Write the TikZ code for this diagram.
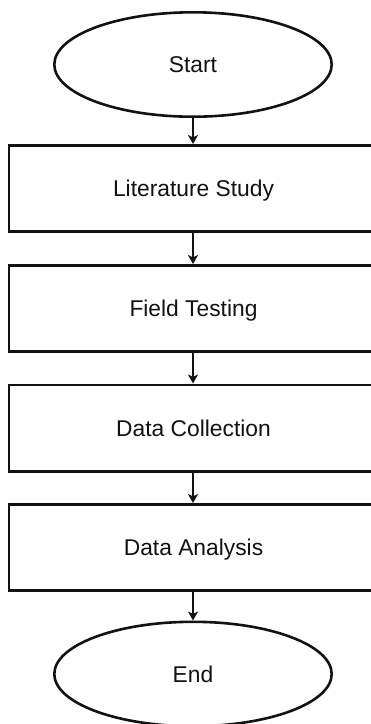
\documentclass[tikz,border=0pt]{standalone}
\usepackage{fontspec}
\setmainfont{Liberation Sans}
\usetikzlibrary{shapes.geometric,arrows.meta}
\definecolor{ink}{HTML}{121212}
\begin{document}
\begin{tikzpicture}[x=1pt,y=-1pt,
  lbl/.style={font=\fontsize{22.8}{27}\selectfont, text=ink, text height=16pt, text depth=0pt},
  term/.style={lbl, ellipse, draw=ink, line width=2.6pt, minimum width=277.4pt, minimum height=104.4pt, inner sep=0pt},
  stepbox/.style={lbl, rectangle, draw=ink, line width=2.6pt, minimum width=369pt, minimum height=86.4pt, inner sep=0pt},
  flow/.style={draw=ink, line width=2.4pt, -{Stealth[length=9pt,width=10pt,inset=2.5pt]}}]
\useasboundingbox (0,0) rectangle (371,724);
\fill[white] (0,0) rectangle (371,724);
\clip (0,0) rectangle (371,724);
\node[term] (start) at (193,64.5) {Start};
\node[stepbox] (s1) at (193.5,188.5) {Literature Study};
\node[stepbox] (s2) at (193.5,308.5) {Field Testing};
\node[stepbox] (s3) at (193.5,428) {Data Collection};
\node[stepbox] (s4) at (193.5,547.5) {Data Analysis};
\node[term] (end) at (193,674) {End};
\draw[flow] (start.south) -- (start.south |- s1.north);
\draw[flow] (s1.south -| start.south) -- (s2.north -| start.south);
\draw[flow] (s2.south -| start.south) -- (s3.north -| start.south);
\draw[flow] (s3.south -| start.south) -- (s4.north -| start.south);
\draw[flow] (s4.south -| start.south) -- (end.north);
\end{tikzpicture}
\end{document}
